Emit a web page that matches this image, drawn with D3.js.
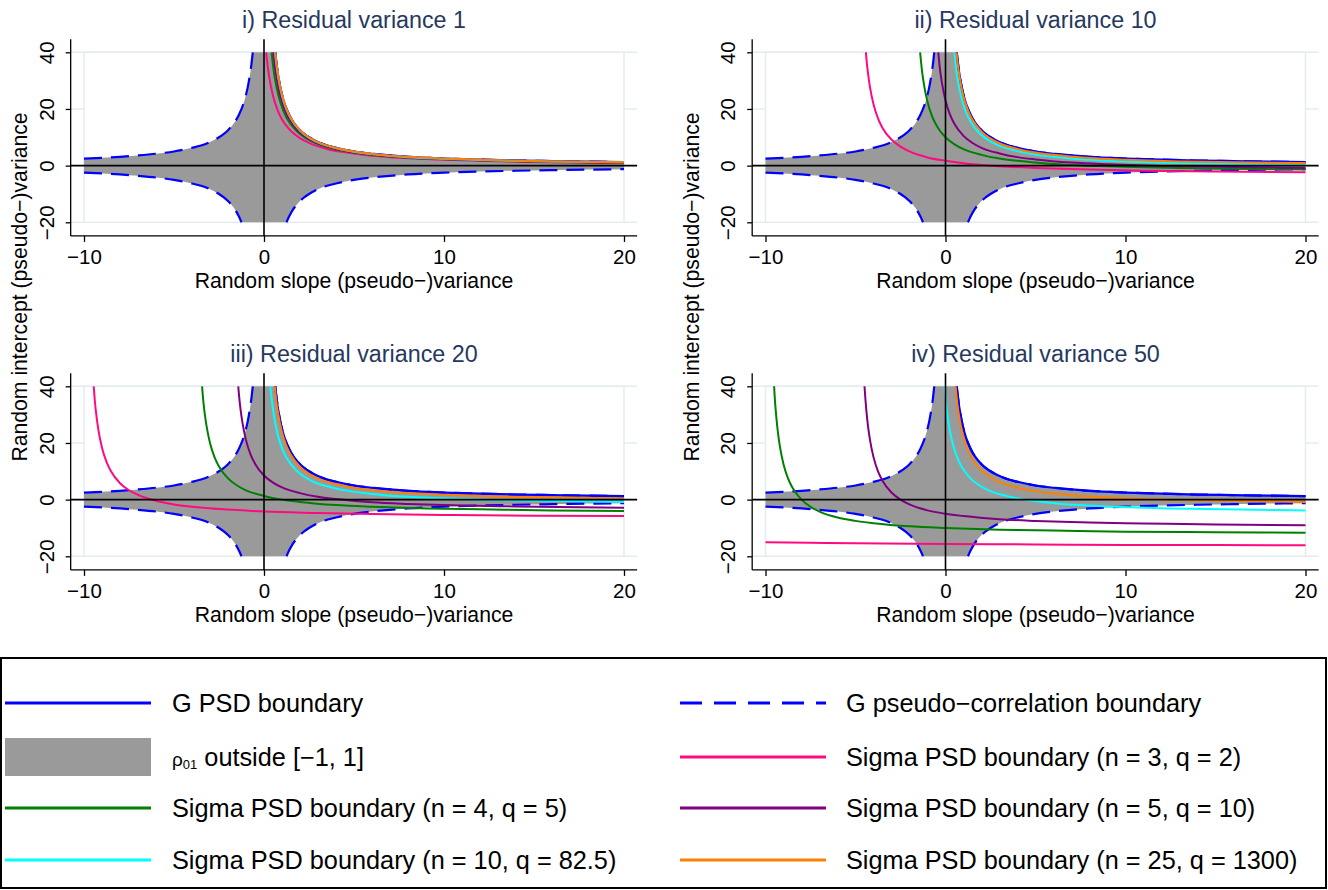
<!DOCTYPE html>
<html>
<head>
<meta charset="utf-8">
<script src="https://cdnjs.cloudflare.com/ajax/libs/d3/7.8.5/d3.min.js"></script>
<style>
body { margin: 0; background: #fff; }
svg text { font-family: "Liberation Sans", Arial, Helvetica, sans-serif; }
</style>
</head>
<body>
<div id="chart"></div>
<script>
// ---- data ----
var panelTitles = ["i) Residual variance 1", "ii) Residual variance 10",
                   "iii) Residual variance 20", "iv) Residual variance 50"];
var xTicks = [-10, 0, 10, 20];
var yTicks = [-20, 0, 20, 40];
var xTitle = "Random slope (pseudo\u2212)variance";
var yTitle = "Random intercept (pseudo\u2212)variance";

// |slope| and |intercept| along the G boundary (same in every panel, mirrored in 4 quadrants)
var boundX = [0.625, 0.66, 0.7, 0.75, 0.8, 0.9, 1, 1.1, 1.25, 1.4, 1.6, 1.8, 2, 2.25, 2.5, 3, 3.5, 4, 5, 6, 7, 8, 10, 12, 14, 16, 18, 20];
var boundY = [40, 37.9, 35.7, 33.3, 31.3, 27.8, 25, 22.7, 20, 17.9, 15.6, 13.9, 12.5, 11.1, 10, 8.3, 7.1, 6.3, 5, 4.2, 3.6, 3.1, 2.5, 2.1, 1.8, 1.6, 1.4, 1.25];

// sigma PSD boundaries, one list of [slope, intercept] per panel
var sigmaPink = [
  [[0.12,40],[0.2,35.4],[0.3,30.9],[0.5,24.7],[0.75,19.7],[1,16.3],[1.5,12.2],[2,9.7],[2.5,8],[3.5,5.9],[4.5,4.7],[5.5,3.8],[7.5,2.8],[9.5,2.2],[12.5,1.6],[15.5,1.2],[20,0.9]],
  [[-4.42,40],[-4.4,38.3],[-4.3,32.4],[-4.2,27.9],[-4,21.7],[-3.75,16.7],[-3.5,13.3],[-3,9.2],[-2.5,6.7],[-2,5],[-1,2.9],[0,1.7],[1,0.8],[3,-0.2],[5,-0.8],[8,-1.4],[11,-1.8],[15,-2.1],[20,-2.3]],
  [[-9.46,40],[-9.4,35],[-9.3,29.1],[-9.2,24.6],[-9,18.3],[-8.75,13.3],[-8.5,10],[-8,5.8],[-7.5,3.3],[-7,1.7],[-6,-0.4],[-5,-1.7],[-4,-2.5],[-2,-3.5],[0,-4.2],[3,-4.7],[6,-5.1],[10,-5.4],[15,-5.7],[20,-5.8]],
  [[-10,-15],[-7.5,-15.2],[-5,-15.4],[0,-15.7],[5,-15.8],[10,-16],[15,-16],[20,-16.1]]
];
var sigmaGreen = [
  [[0.42,40],[0.5,35.5],[0.6,31],[0.8,24.8],[1.05,19.8],[1.3,16.4],[1.8,12.3],[2.3,9.8],[2.8,8.1],[3.8,6],[4.8,4.8],[5.8,3.9],[7.8,2.9],[9.8,2.3],[12.8,1.7],[15.8,1.3],[20,1]],
  [[-1.41,40],[-1.3,33.2],[-1.2,28.8],[-1,22.5],[-0.75,17.5],[-0.5,14.2],[0,10],[0.5,7.5],[1,5.8],[2,3.8],[3,2.5],[4,1.7],[6,0.6],[8,0],[11,-0.6],[14,-0.9],[17,-1.2],[20,-1.4]],
  [[-3.44,40],[-3.4,36.7],[-3.3,30.7],[-3.2,26.3],[-3,20],[-2.75,15],[-2.5,11.7],[-2,7.5],[-1.5,5],[-1,3.3],[0,1.3],[1,0],[2,-0.8],[4,-1.9],[6,-2.5],[9,-3.1],[12,-3.4],[16,-3.8],[20,-4]],
  [[-9.52,40],[-9.5,37.5],[-9.4,29.2],[-9.3,23.2],[-9.2,18.8],[-9,12.5],[-8.75,7.5],[-8.5,4.2],[-8,0],[-7.5,-2.5],[-7,-4.2],[-6,-6.3],[-5,-7.5],[-4,-8.3],[-2,-9.4],[0,-10],[3,-10.6],[6,-10.9],[10,-11.3],[15,-11.5],[20,-11.7]]
];
var sigmaPurple = [
  [[0.52,40],[0.6,35.5],[0.7,31.1],[0.9,24.8],[1.15,19.8],[1.4,16.5],[1.9,12.3],[2.4,9.8],[2.9,8.1],[3.9,6.1],[4.9,4.8],[5.9,4],[7.9,2.9],[9.9,2.3],[12.9,1.7],[15.9,1.4],[20,1]],
  [[-0.4,40],[-0.3,33.7],[-0.2,29.3],[0,23],[0.25,18],[0.5,14.7],[1,10.5],[1.5,8],[2,6.3],[3,4.3],[4,3],[5,2.2],[7,1.1],[9,0.5],[12,-0.1],[15,-0.4],[20,-0.8]],
  [[-1.43,40],[-1.4,37.7],[-1.3,31.7],[-1.2,27.3],[-1,21],[-0.75,16],[-0.5,12.7],[0,8.5],[0.5,6],[1,4.3],[2,2.3],[3,1],[4,0.2],[6,-0.9],[8,-1.5],[11,-2.1],[14,-2.4],[20,-2.9]],
  [[-4.5,40],[-4.45,35.5],[-4.4,31.7],[-4.3,25.7],[-4.2,21.3],[-4,15],[-3.75,10],[-3.5,6.7],[-3,2.5],[-2.5,0],[-2,-1.7],[-1,-3.8],[0,-5],[1,-5.8],[3,-6.9],[5,-7.5],[8,-8.1],[11,-8.4],[15,-8.8],[20,-9]]
];
var sigmaCyan = [
  [[0.61,40],[0.69,35.6],[0.79,31.2],[0.99,24.9],[1.24,19.9],[1.49,16.6],[1.99,12.4],[2.49,9.9],[2.99,8.2],[3.99,6.2],[4.99,4.9],[5.99,4.1],[7.99,3],[9.99,2.4],[12.99,1.8],[15.99,1.5],[20,1.2]],
  [[0.49,40],[0.58,34.7],[0.68,30.3],[0.88,24],[1.13,19],[1.38,15.7],[1.88,11.5],[2.38,9],[2.88,7.3],[3.88,5.3],[4.88,4],[5.88,3.2],[7.88,2.1],[9.88,1.5],[12.88,0.9],[15.88,0.6],[20,0.2]],
  [[0.35,40],[0.46,33.7],[0.56,29.3],[0.76,23],[1.01,18],[1.26,14.7],[1.76,10.5],[2.26,8],[2.76,6.3],[3.76,4.3],[4.76,3],[5.76,2.2],[7.76,1.1],[9.76,0.5],[12.76,-0.1],[15.76,-0.4],[20,-0.8]],
  [[-0.05,40],[-0.01,36.7],[0.09,30.7],[0.19,26.3],[0.39,20],[0.64,15],[0.89,11.7],[1.39,7.5],[1.89,5],[2.39,3.3],[3.39,1.3],[4.39,0],[5.39,-0.8],[7.39,-1.9],[9.39,-2.5],[12.39,-3.1],[15.39,-3.4],[20,-3.8]]
];
var sigmaOrange = [
  [[0.62,40],[0.7,35.7],[0.8,31.2],[1,25],[1.25,20],[1.5,16.6],[2,12.5],[2.5,10],[3,8.3],[4,6.2],[5,5],[6,4.1],[8,3.1],[10,2.5],[13,1.9],[16,1.5],[20,1.2]],
  [[0.61,40],[0.69,35.3],[0.79,30.9],[0.99,24.6],[1.24,19.6],[1.49,16.3],[1.99,12.1],[2.49,9.6],[2.99,7.9],[3.99,5.9],[4.99,4.6],[5.99,3.8],[7.99,2.7],[9.99,2.1],[12.99,1.5],[15.99,1.2],[20,0.9]],
  [[0.6,40],[0.68,34.9],[0.78,30.5],[0.98,24.2],[1.23,19.2],[1.48,15.9],[1.98,11.7],[2.48,9.2],[2.98,7.5],[3.98,5.5],[4.98,4.2],[5.98,3.4],[7.98,2.3],[9.98,1.7],[12.98,1.1],[15.98,0.8],[20,0.4]],
  [[0.56,40],[0.66,33.7],[0.76,29.3],[0.96,23],[1.21,18],[1.46,14.7],[1.96,10.5],[2.46,8],[2.96,6.3],[3.96,4.3],[4.96,3],[5.96,2.2],[7.96,1.1],[9.96,0.5],[12.96,-0.1],[15.96,-0.4],[20,-0.8]]
];

var sigmaSeries = [sigmaPink, sigmaGreen, sigmaPurple, sigmaCyan, sigmaOrange];
var sigmaColors = ["#ff0a80", "#008000", "#800080", "#00ffff", "#ff8000"];

var legendLabels = ["G PSD boundary", "G pseudo\u2212correlation boundary", "outside [\u22121, 1]",
  "Sigma PSD boundary (n = 3, q = 2)", "Sigma PSD boundary (n = 4, q = 5)",
  "Sigma PSD boundary (n = 5, q = 10)", "Sigma PSD boundary (n = 10, q = 82.5)",
  "Sigma PSD boundary (n = 25, q = 1300)"];

// ---- layout ----
var width = 1328, height = 890;
var colX = [84, 765.5], rowY = [52.3, 386.3];
var innerW = 540, innerH = 170;
var blue = "#0000ff", gray = "#9a9a9a", faint = "#e4ecef", titleColor = "#26385f";

var svg = d3.select("#chart").append("svg")
    .attr("width", width)
    .attr("height", height);

// quadrant branches of the pseudo-correlation boundary
var pts = boundX.map(function(v, i) { return [v, boundY[i]]; });
var upperLeft = pts.filter(function(p) { return p[0] <= 10; }).map(function(p) { return [-p[0], p[1]]; }).reverse();
var upperRight = pts;
var lowerLeft = pts.filter(function(p) { return p[0] >= 1.25 && p[0] <= 10; }).map(function(p) { return [-p[0], -p[1]]; }).reverse();
var lowerRight = pts.filter(function(p) { return p[0] >= 1.25; }).map(function(p) { return [p[0], -p[1]]; });

panelTitles.forEach(function(title, i) {
    var x0 = colX[i % 2], y0 = rowY[Math.floor(i / 2)];
    var x = d3.scaleLinear().domain([-10, 20]).range([x0, x0 + innerW]);
    var y = d3.scaleLinear().domain([-20, 40]).range([y0 + innerH, y0]);
    var xl = x(-10.74), xr = x(20.73), yt = y(44.6), yb = y(-24.8);

    var g = svg.append("g").attr("class", "panel");

    // faint gridlines in the margins and the plot region outline
    g.selectAll("line.grid").data(yTicks).enter().append("line")
        .attr("class", "grid")
        .attr("x1", xl).attr("x2", xr)
        .attr("y1", function(d) { return y(d); }).attr("y2", function(d) { return y(d); })
        .attr("stroke", faint).attr("stroke-width", 1.5);
    g.append("rect")
        .attr("x", x(-10)).attr("y", y(40))
        .attr("width", x(20) - x(-10)).attr("height", y(-20) - y(40))
        .attr("fill", "#fff").attr("stroke", faint).attr("stroke-width", 1.5);

    var clipId = "clip" + i;
    svg.append("clipPath").attr("id", clipId).append("rect")
        .attr("x", x(-10) - 2).attr("y", y(40) - 1)
        .attr("width", x(20) - x(-10) + 4).attr("height", y(-20) - y(40) + 2);
    var plot = g.append("g").attr("clip-path", "url(#" + clipId + ")");

    var line = d3.line()
        .x(function(d) { return x(d[0]); })
        .y(function(d) { return y(d[1]); })
        .curve(d3.curveMonotoneX);
    var area = d3.area()
        .x(function(d) { return x(d[0]); })
        .y0(y(0))
        .y1(function(d) { return y(d[1]); })
        .curve(d3.curveMonotoneX);

    plot.append("path").datum(upperLeft.concat(upperRight))
        .attr("d", area).attr("fill", gray);
    plot.append("path").datum(lowerLeft.concat(lowerRight))
        .attr("d", area).attr("fill", gray);

    [upperLeft, upperRight, lowerLeft, lowerRight].forEach(function(b) {
        plot.append("path").datum(b)
            .attr("d", line).attr("fill", "none")
            .attr("stroke", blue).attr("stroke-width", 2.2)
            .attr("stroke-dasharray", "18,9");
    });
    plot.append("path").datum(upperRight)
        .attr("d", line).attr("fill", "none")
        .attr("stroke", blue).attr("stroke-width", 2.2);

    sigmaSeries.forEach(function(s, k) {
        plot.append("path").datum(s[i])
            .attr("d", line).attr("fill", "none")
            .attr("stroke", sigmaColors[k]).attr("stroke-width", 2);
    });

    // reference lines at 0
    g.append("line").attr("x1", xl).attr("x2", xr).attr("y1", y(0)).attr("y2", y(0))
        .attr("stroke", "#000").attr("stroke-width", 1.6);
    g.append("line").attr("x1", x(0)).attr("x2", x(0)).attr("y1", yt).attr("y2", yb)
        .attr("stroke", "#000").attr("stroke-width", 1.6);

    // axes
    var xAxis = g.append("g").attr("transform", "translate(0," + yb + ")")
        .call(d3.axisBottom(x).tickValues(xTicks).tickSize(6).tickSizeOuter(0));
    xAxis.select(".domain").remove();
    xAxis.selectAll("line").attr("stroke", "#000").attr("stroke-width", 1.3);
    xAxis.selectAll("text").attr("y", 28).attr("dy", null)
        .attr("fill", "#000").style("font-size", "20.5px");
    g.append("line").attr("x1", xl).attr("x2", xr).attr("y1", yb).attr("y2", yb)
        .attr("stroke", "#000").attr("stroke-width", 1.3);

    var yAxis = g.append("g").attr("transform", "translate(" + xl + ",0)")
        .call(d3.axisLeft(y).tickValues(yTicks).tickSize(5).tickSizeOuter(0));
    yAxis.select(".domain").remove();
    yAxis.selectAll("line").attr("stroke", "#000").attr("stroke-width", 1.3);
    yAxis.selectAll("text")
        .attr("x", null).attr("dy", null)
        .attr("transform", "translate(-17,0) rotate(-90)")
        .attr("text-anchor", "middle")
        .attr("fill", "#000").style("font-size", "20.5px");
    g.append("line").attr("x1", xl).attr("x2", xl).attr("y1", yt).attr("y2", yb)
        .attr("stroke", "#000").attr("stroke-width", 1.3);

    g.append("text")
        .attr("x", (x(-10) + x(20)) / 2).attr("y", yb + 52)
        .attr("text-anchor", "middle").style("font-size", "21.2px")
        .text(xTitle);

    g.append("text")
        .attr("x", (x(-10) + x(20)) / 2).attr("y", y0 - 24)
        .attr("text-anchor", "middle").style("font-size", "23.3px")
        .attr("fill", titleColor)
        .text(title);
});

// one y title per column
[27, 699].forEach(function(tx) {
    svg.append("text")
        .attr("transform", "translate(" + tx + ",287) rotate(-90)")
        .attr("text-anchor", "middle").style("font-size", "21.2px")
        .text(yTitle);
});

// ---- legend ----
var legend = svg.append("g").attr("class", "legend");
legend.append("rect")
    .attr("x", 1).attr("y", 658).attr("width", 1325).attr("height", 230)
    .attr("fill", "#fff").attr("stroke", "#000").attr("stroke-width", 2);

var rowsY = [703, 757, 808, 860];
var keyX = [5, 680], textX = [172, 846], keyW = 146;
var keyStyles = [
    { stroke: blue }, { stroke: blue, dash: "22,12" }, { box: gray },
    { stroke: sigmaColors[0] }, { stroke: sigmaColors[1] }, { stroke: sigmaColors[2] },
    { stroke: sigmaColors[3] }, { stroke: sigmaColors[4] }
];

legendLabels.forEach(function(label, i) {
    var c = i % 2, r = Math.floor(i / 2);
    var ky = rowsY[r], st = keyStyles[i];
    if (st.box) {
        legend.append("rect")
            .attr("x", keyX[c]).attr("y", ky - 19).attr("width", keyW).attr("height", 38)
            .attr("fill", st.box);
    } else {
        legend.append("line")
            .attr("x1", keyX[c]).attr("x2", keyX[c] + keyW)
            .attr("y1", ky).attr("y2", ky)
            .attr("stroke", st.stroke).attr("stroke-width", 3)
            .attr("stroke-dasharray", st.dash || null);
    }
    var t = legend.append("text")
        .attr("x", textX[c]).attr("y", ky + 9)
        .style("font-size", "25.3px");
    if (st.box) {
        t.append("tspan").style("font-size", "19px").text("\u03c1");
        t.append("tspan").style("font-size", "13px").attr("dy", 3).text("01");
        t.append("tspan").attr("dy", -3).text(" " + label);
    } else {
        t.text(label);
    }
});
</script>
</body>
</html>
